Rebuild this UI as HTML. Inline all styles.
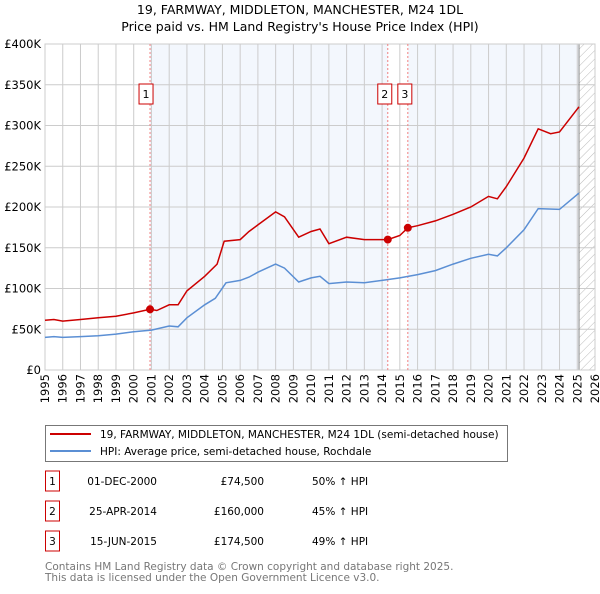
<!DOCTYPE html>
<html><head><meta charset="utf-8"><style>
body{margin:0;background:#fff;font-family:"DejaVu Sans","Liberation Sans",sans-serif;}
svg text{font-family:"DejaVu Sans","Liberation Sans",sans-serif;}
</style></head><body>
<svg id="c" width="600" height="590" xmlns="http://www.w3.org/2000/svg">
<defs><pattern id="hatch" width="6" height="6" patternUnits="userSpaceOnUse" patternTransform="rotate(45)"><line x1="0" y1="0" x2="0" y2="6" stroke="#bbb" stroke-width="1"/></pattern></defs>
<text x="300" y="14" text-anchor="middle" font-size="12.5">19, FARMWAY, MIDDLETON, MANCHESTER, M24 1DL</text>
<text x="300" y="31" text-anchor="middle" font-size="12.5">Price paid vs. HM Land Registry's House Price Index (HPI)</text>
<g id="plot"></g>
<g>
<rect x="45.5" y="425.5" width="462" height="36" fill="#fff" stroke="#777"/>
<line x1="50" y1="434" x2="91" y2="434" stroke="#cc0000" stroke-width="2"/>
<text x="100" y="438" font-size="10.5">19, FARMWAY, MIDDLETON, MANCHESTER, M24 1DL (semi-detached house)</text>
<line x1="50" y1="451" x2="91" y2="451" stroke="#5b8fd4" stroke-width="2"/>
<text x="100" y="455" font-size="10.5">HPI: Average price, semi-detached house, Rochdale</text>
</g>
<g id="table" font-size="10.5"></g>
<text x="45" y="570" font-size="10.5" fill="#777">Contains HM Land Registry data © Crown copyright and database right 2025.</text>
<text x="45" y="581" font-size="10.5" fill="#777">This data is licensed under the Open Government Licence v3.0.</text>
</svg>
<script>
const yearTicks=[1995,1996,1997,1998,1999,2000,2001,2002,2003,2004,2005,2006,2007,2008,2009,2010,2011,2012,2013,2014,2015,2016,2017,2018,2019,2020,2021,2022,2023,2024,2025,2026];
const valueTicks=[0,50000,100000,150000,200000,250000,300000,350000,400000];
const valueTickLabels=["£0","£50K","£100K","£150K","£200K","£250K","£300K","£350K","£400K"];
const hpiYears=[1995,1995.5,1996,1997,1998,1999,2000,2001,2002,2002.5,2003,2004,2004.6,2005.2,2006,2006.5,2007,2008,2008.5,2009.3,2010,2010.5,2011,2012,2013,2014,2015,2016,2017,2018,2019,2020,2020.5,2021,2022,2022.8,2024,2025.1];
const hpiValues=[40000,41000,40000,41000,42000,44000,47000,49000,54000,53000,64000,80000,88000,107000,110000,114000,120000,130000,125000,108000,113000,115000,106000,108000,107000,110000,113000,117000,122000,130000,137000,142000,140000,150000,172000,198000,197000,217000];
const propYears=[1995,1995.5,1996,1997,1998,1999,2000,2000.92,2001.3,2002,2002.5,2003,2004,2004.7,2005.1,2006,2006.5,2007,2008,2008.5,2009.3,2010,2010.5,2011,2012,2013,2014.32,2015,2015.45,2016,2017,2018,2019,2020,2020.5,2021,2022,2022.8,2023.5,2024,2025.1];
const propValues=[61000,62000,60000,62000,64000,66000,70000,74500,73000,80000,80000,97000,115000,130000,158000,160000,170000,178000,194000,188000,163000,170000,173000,155000,163000,160000,160000,165000,174500,177000,183000,191000,200000,213000,210000,225000,260000,296000,290000,292000,323000];
const saleLabels=["1","2","3"];
const saleYears=[2000.92,2014.32,2015.45];
const saleValues=[74500,160000,174500];
const saleDates=["01-DEC-2000","25-APR-2014","15-JUN-2015"];
const salePrices=["£74,500","£160,000","£174,500"];
const saleHpi=["50% ↑ HPI","45% ↑ HPI","49% ↑ HPI"];
const dataEnd=2025.1;

const X0=45,X1=595,Y0=370,Y1=44;
const x=y=>X0+(y-1995)/(2026-1995)*(X1-X0);
const yv=v=>Y0-v/400000*(Y0-Y1);
const NS="http://www.w3.org/2000/svg";
const plot=document.getElementById('plot');
function mk(tag,attrs,parent){const e=document.createElementNS(NS,tag);for(const k in attrs)e.setAttribute(k,attrs[k]);(parent||plot).appendChild(e);return e;}
let bg=mk('rect',{x:X0,y:Y1,width:X1-X0,height:Y0-Y1,fill:'#fff'});


let s1=mk('rect',{x:x(saleYears[0]),y:Y1,width:x(saleYears[1])-x(saleYears[0]),height:Y0-Y1,fill:'#eef3fc',opacity:0.7});


let s2=mk('rect',{x:x(saleYears[2]),y:Y1,width:x(dataEnd)-x(saleYears[2]),height:Y0-Y1,fill:'#eef3fc',opacity:0.7});


let h=mk('rect',{x:x(dataEnd),y:Y1,width:X1-x(dataEnd),height:Y0-Y1,fill:'url(#hatch)'});


yearTicks.forEach(t=>{let l=mk('line',{x1:x(t),x2:x(t),y1:Y1,y2:Y0,stroke:'#ccc'});


let tx=mk('text',{x:0,y:0,'font-size':11.5,'text-anchor':'end',transform:`translate(${x(t)+4},${Y0+4}) rotate(-90)`});tx.textContent=t;

});
valueTicks.forEach((v,i)=>{let l=mk('line',{x1:X0,x2:X1,y1:yv(v),y2:yv(v),stroke:'#ccc'});


let tx=mk('text',{x:X0-4,y:yv(v)+4,'font-size':11.5,'text-anchor':'end'});tx.textContent=valueTickLabels[i];

});
let el=mk('line',{x1:x(dataEnd),x2:x(dataEnd),y1:Y1,y2:Y0,stroke:'#888'});


let fr=mk('rect',{x:X0,y:Y1,width:X1-X0,height:Y0-Y1,fill:'none',stroke:'#ccc'});


saleYears.forEach((s,i)=>{let l=mk('line',{x1:x(s),x2:x(s),y1:Y1,y2:Y0,stroke:'#f08080','stroke-dasharray':'2,2'});


const bx=x(s)-(i==1?4:(i==2?-4:4))-7+(i==0?-0:0);
let g=mk('g',{});


const cx=i==0?x(s)-4:(i==1?x(s)-3:x(s)-3);
mk('rect',{x:cx-7,y:84,width:14,height:20,fill:'#fff',stroke:'#cc0000'},g);
let t=mk('text',{x:cx,y:98,'font-size':11,'text-anchor':'middle'},g);t.textContent=saleLabels[i];});
const path=(xs,vs)=>xs.map((a,i)=>(i?'L':'M')+x(a).toFixed(1)+','+yv(vs[i]).toFixed(1)).join('');
let hp=mk('path',{d:path(hpiYears,hpiValues),fill:'none',stroke:'#5b8fd4','stroke-width':1.5});


let pp=mk('path',{d:path(propYears,propValues),fill:'none',stroke:'#cc0000','stroke-width':1.5});


saleYears.forEach((s,i)=>{let c=mk('circle',{cx:x(s),cy:yv(saleValues[i]),r:4,fill:'#cc0000'});

});
const tb=document.getElementById('table');
saleLabels.forEach((l,i)=>{const y=483+i*30;
let g=mk('g',{},tb);


mk('rect',{x:45.5,y:y-12,width:14,height:20,fill:'#fff',stroke:'#cc0000'},g);
let a=mk('text',{x:52.5,y:y+2,'text-anchor':'middle'},g);a.textContent=l;
let b=mk('text',{x:157,y:y+2,'text-anchor':'end'},g);b.textContent=saleDates[i];
let c=mk('text',{x:264,y:y+2,'text-anchor':'end'},g);c.textContent=salePrices[i];
let d=mk('text',{x:312,y:y+2},g);d.textContent=saleHpi[i];});
</script>
</body></html>
